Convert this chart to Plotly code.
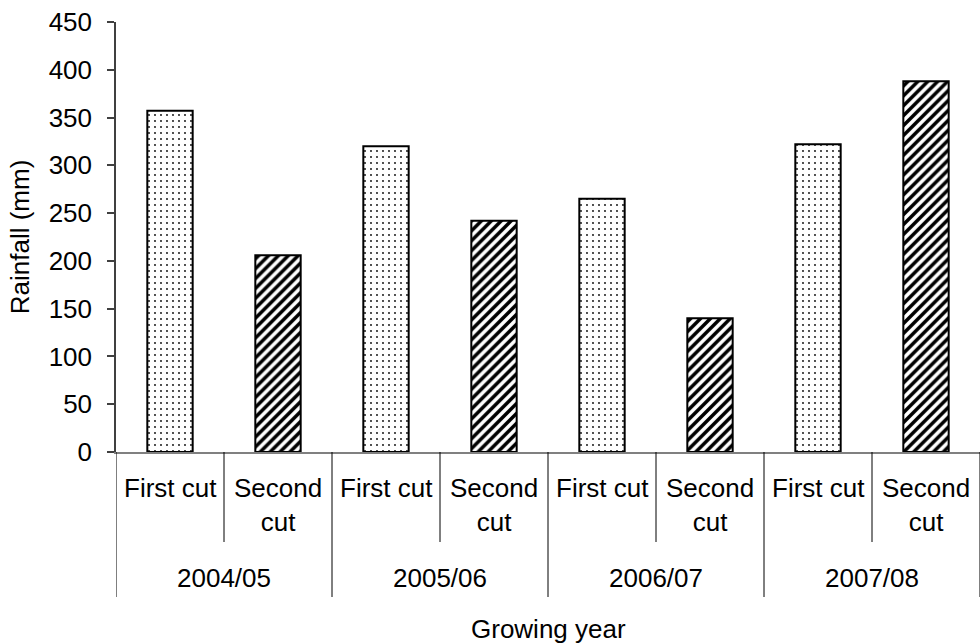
import plotly.graph_objects as go

# Rainfall (mm) over each cutting period, by growing year
years = ["2004/05", "2005/06", "2006/07", "2007/08"]
cut_labels = ["First cut", "Second<br>cut"]
first_cut = [357, 320, 265, 322]
second_cut = [206, 242, 140, 388]

FONT = "Liberation Sans, Arial, sans-serif"
FS = 26

n_cuts = len(cut_labels)
x_first = [i * n_cuts for i in range(len(years))]
x_second = [i * n_cuts + 1 for i in range(len(years))]

fig = go.Figure()
fig.add_trace(go.Bar(
    x=x_first, y=first_cut, name="First cut", width=0.42,
    marker=dict(color="white",
                line=dict(color="black", width=2),
                pattern=dict(shape=".", fgcolor="black", bgcolor="white",
                             fgopacity=1, size=6, solidity=0.07,
                             fillmode="replace")),
))
fig.add_trace(go.Bar(
    x=x_second, y=second_cut, name="Second cut", width=0.42,
    marker=dict(color="white",
                line=dict(color="black", width=2),
                pattern=dict(shape="/", fgcolor="black", bgcolor="white",
                             fgopacity=1, size=7, solidity=0.5,
                             fillmode="replace")),
))

annotations = []
shapes = []
# inner (cut) labels and dividers
for i, yr in enumerate(years):
    for j, lab in enumerate(cut_labels):
        pos = i * n_cuts + j
        annotations.append(dict(
            x=pos, y=0, xref="x", yref="paper", text=lab, showarrow=False,
            yanchor="top", yshift=-19, font=dict(size=FS, family=FONT, color="black"),
        ))
        if j < n_cuts - 1:
            shapes.append(dict(type="line", xref="x", yref="paper",
                               x0=pos + 0.5, x1=pos + 0.5,
                               ysizemode="pixel", yanchor=0, y0=0, y1=-90,
                               line=dict(color="black", width=1)))
    # year label
    annotations.append(dict(
        x=i * n_cuts + (n_cuts - 1) / 2, y=0, xref="x", yref="paper", text=yr,
        showarrow=False, yanchor="middle", yshift=-126,
        font=dict(size=FS, family=FONT, color="black"),
    ))
# year dividers
for i in range(len(years) + 1):
    xv = i * n_cuts - 0.5
    shapes.append(dict(type="line", xref="x", yref="paper",
                       x0=xv, x1=xv, ysizemode="pixel", yanchor=0, y0=0, y1=-145,
                       line=dict(color="black", width=1)))

# x-axis title
annotations.append(dict(x=0.5, y=0, xref="paper", yref="paper", text="Growing year",
                        showarrow=False, yanchor="middle", yshift=-177,
                        font=dict(size=FS, family=FONT, color="black")))

fig.update_layout(
    width=980, height=644,
    margin=dict(l=116, r=0, t=22, b=192),
    paper_bgcolor="white", plot_bgcolor="white",
    showlegend=False,
    font=dict(family=FONT, size=FS, color="black"),
    annotations=annotations,
    shapes=shapes,
    xaxis=dict(range=[-0.5, len(years) * n_cuts - 0.5], showticklabels=False,
               ticks="", showgrid=False, zeroline=False,
               showline=True, linecolor="#808080", linewidth=2),
    yaxis=dict(range=[0, 450], dtick=50, tick0=0, ticks="outside", ticklen=7,
               tickcolor="#404040", tickwidth=1.5,
               showgrid=False, zeroline=False, showline=True,
               linecolor="#404040", linewidth=1.5,
               ticklabelstandoff=10,
               tickfont=dict(size=FS, family=FONT, color="black"),
               title=dict(text="Rainfall (mm)", standoff=12,
                          font=dict(size=FS, family=FONT, color="black")),
               automargin=False),
)

fig.write_html("out.html")
